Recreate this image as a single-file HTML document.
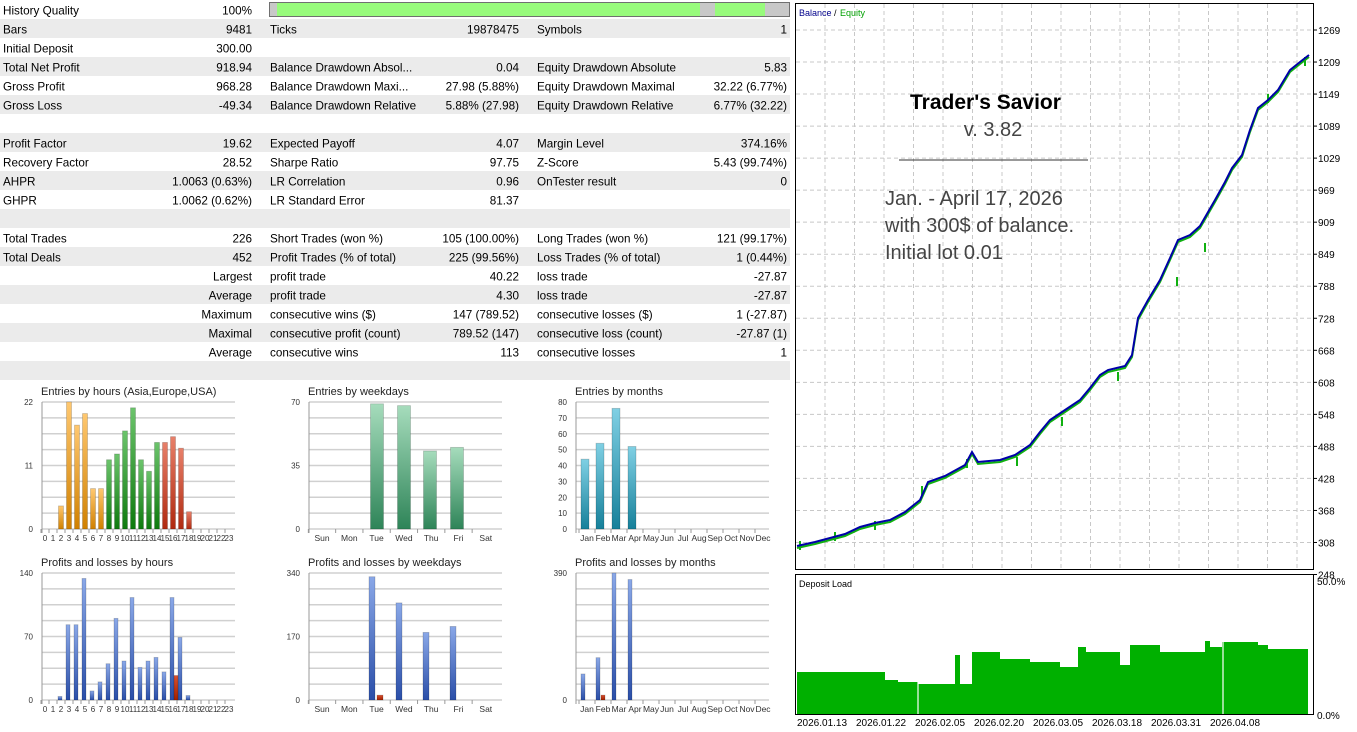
<!DOCTYPE html>
<html><head><meta charset="utf-8">
<style>
body{margin:0;background:#fff;width:1357px;height:732px;overflow:hidden;font-family:"Liberation Sans",sans-serif}
svg{position:absolute;left:0;top:0}
</style></head><body>
<svg id="s" width="1357" height="732" xmlns="http://www.w3.org/2000/svg" font-family="Liberation Sans, sans-serif"></svg>
<script>
const S=document.getElementById('s');let h='';
function R(x,y,w,H,f,extra){h+=`<rect x="${x}" y="${y}" width="${w}" height="${H}" fill="${f}" ${extra||''}/>`}
function T(x,y,t,sz,fill,anchor,extra){h+=`<text x="${x}" y="${y}" font-size="${sz}" fill="${fill||'#000'}" text-anchor="${anchor||'start'}" ${extra||''}>${t}</text>`}
function L(x1,y1,x2,y2,c,w,extra){h+=`<line x1="${x1}" y1="${y1}" x2="${x2}" y2="${y2}" stroke="${c}" stroke-width="${w||1}" ${extra||''}/>`}
h+=`<defs>
<linearGradient id="gO" x1="0" y1="0" x2="0" y2="1"><stop offset="0" stop-color="#ffc870"/><stop offset="1" stop-color="#d08000"/></linearGradient>
<linearGradient id="gG" x1="0" y1="0" x2="0" y2="1"><stop offset="0" stop-color="#6cc46c"/><stop offset="1" stop-color="#0e7a0e"/></linearGradient>
<linearGradient id="gR" x1="0" y1="0" x2="0" y2="1"><stop offset="0" stop-color="#e8806a"/><stop offset="1" stop-color="#b02a10"/></linearGradient>
<linearGradient id="gB" x1="0" y1="0" x2="0" y2="1"><stop offset="0" stop-color="#8aa8e8"/><stop offset="1" stop-color="#2a4ea8"/></linearGradient>
<linearGradient id="gW" x1="0" y1="0" x2="0" y2="1"><stop offset="0" stop-color="#a6dcbc"/><stop offset="1" stop-color="#2e8458"/></linearGradient>
<linearGradient id="gC" x1="0" y1="0" x2="0" y2="1"><stop offset="0" stop-color="#80d0e4"/><stop offset="1" stop-color="#16809a"/></linearGradient>
<linearGradient id="gRR" x1="0" y1="0" x2="0" y2="1"><stop offset="0" stop-color="#d85030"/><stop offset="1" stop-color="#a02000"/></linearGradient>
</defs>`;
const rows=[
["History Quality","100%","","","",""],
["Bars","9481","Ticks","19878475","Symbols","1"],
["Initial Deposit","300.00","","","",""],
["Total Net Profit","918.94","Balance Drawdown Absol...","0.04","Equity Drawdown Absolute","5.83"],
["Gross Profit","968.28","Balance Drawdown Maxi...","27.98 (5.88%)","Equity Drawdown Maximal","32.22 (6.77%)"],
["Gross Loss","-49.34","Balance Drawdown Relative","5.88% (27.98)","Equity Drawdown Relative","6.77% (32.22)"],
["","","","","",""],
["Profit Factor","19.62","Expected Payoff","4.07","Margin Level","374.16%"],
["Recovery Factor","28.52","Sharpe Ratio","97.75","Z-Score","5.43 (99.74%)"],
["AHPR","1.0063 (0.63%)","LR Correlation","0.96","OnTester result","0"],
["GHPR","1.0062 (0.62%)","LR Standard Error","81.37","",""],
["","","","","",""],
["Total Trades","226","Short Trades (won %)","105 (100.00%)","Long Trades (won %)","121 (99.17%)"],
["Total Deals","452","Profit Trades (% of total)","225 (99.56%)","Loss Trades (% of total)","1 (0.44%)"],
["","Largest","profit trade","40.22","loss trade","-27.87"],
["","Average","profit trade","4.30","loss trade","-27.87"],
["","Maximum","consecutive wins ($)","147 (789.52)","consecutive losses ($)","1 (-27.87)"],
["","Maximal","consecutive profit (count)","789.52 (147)","consecutive loss (count)","-27.87 (1)"],
["","Average","consecutive wins","113","consecutive losses","1"],
["","","","","",""]];
rows.forEach((r,i)=>{const y=i*19;if(i%2==1)R(0,y,790,19,'#ebebeb');
 const by=y+14.5;const f=11.7;
 if(r[0])T(3,by,r[0],f);if(r[1])T(252,by,r[1],f,'#000','end');
 if(r[2])T(270,by,r[2],f);if(r[3])T(519,by,r[3],f,'#000','end');
 if(r[4])T(537,by,r[4],f);if(r[5])T(787,by,r[5],f,'#000','end');});
R(269.5,2.5,520,14,'#c8c8c8','stroke="#707070"');R(277,3,423,13,'#98fb7c');R(715,3,50,13,'#98fb7c');
function chart(ox,top,title,max,ticks,labels,cat0,catStep,bars,xlabFs){
 const L0=ox+42,R0=ox+235,bot=top+127;
 T(ox+41,top-7,title,11,'#222');
 for(let k=0;k<=8;k++){const y=top+k*127/8;L(L0,y,R0,y,'#d0d0d0',1.5)}
 L(L0,top,L0,bot+4,'#999');
 ticks.forEach(t=>{T(L0-9,bot-t/max*127+3,t,8,'#333','end')});
 labels.forEach((s,i)=>{const x=cat0+i*catStep;T(x,bot+12,s,xlabFs||8.5,'#333','middle');L(x-catStep/2,bot,x-catStep/2,bot+4,'#999')});
 bars.forEach(b=>{const hh=b[1]/max*127;R(b[0]-b[2]/2,bot-hh,b[2],hh,b[3],'stroke="'+(b[4]||'#0003')+'" stroke-width="0.8"')});
}
const hrs=[...Array(24).keys()].map(String);
const ev={2:4,3:22,4:18,5:20,6:7,7:7,8:12,9:13,10:17,11:21,12:12,13:10,14:15,15:15,16:16,17:14,18:3};
let b1=[];for(const k in ev){const i=+k;b1.push([45+i*8,ev[k],5,i<=7?'url(#gO)':i<=14?'url(#gG)':'url(#gR)'])}
chart(0,402,'Entries by hours (Asia,Europe,USA)',22,[0,11,22],hrs,45,8,b1,8);
const pv={2:4,3:83,4:83,5:134,6:10,7:20,8:40,9:90,10:43,11:113,12:36,13:43,14:47,15:31,16:113,17:69,18:5};
let b2=[];for(const k in pv){b2.push([44+(+k)*8,pv[k],4,'url(#gB)'])}b2.push([176,27,4,'url(#gRR)']);
chart(0,573,'Profits and losses by hours',140,[0,70,140],hrs,45,8,b2,8);
const wd=['Sun','Mon','Tue','Wed','Thu','Fri','Sat'];
chart(267,402,'Entries by weekdays',70,[0,35,70],wd,322,27.3,[[377,69,13,'url(#gW)'],[404,68,13,'url(#gW)'],[430,43,13,'url(#gW)'],[457,45,13,'url(#gW)']]);
chart(267,573,'Profits and losses by weekdays',340,[0,170,340],wd,322,27.3,[[372,330,6,'url(#gB)'],[380,13,6,'url(#gRR)'],[399,260,6,'url(#gB)'],[426,181,6,'url(#gB)'],[453,197,6,'url(#gB)']]);
const mo=['Jan','Feb','Mar','Apr','May','Jun','Jul','Aug','Sep','Oct','Nov','Dec'];
chart(534,402,'Entries by months',80,[0,10,20,30,40,50,60,70,80],mo,587,16,[[585,44,8,'url(#gC)'],[600,54,8,'url(#gC)'],[616,76,8,'url(#gC)'],[632,52,8,'url(#gC)']]);
chart(534,573,'Profits and losses by months',390,[0,390],mo,587,16,[[583,80,4,'url(#gB)'],[598,130,4,'url(#gB)'],[603,15,4,'url(#gRR)'],[614,390,4,'url(#gB)'],[630,370,4,'url(#gB)']]);
R(795.5,3.5,518,566,'#fff','stroke="#000"');
const gx=[];for(let x=825;x<1313;x+=29.5)gx.push(x);
gx.forEach(x=>{L(x,4,x,569,'#c8c8c8',1,'stroke-dasharray="4,3"');L(x,575,x,714,'#c8c8c8',1,'stroke-dasharray="4,3"')});
const pl=[1269,1209,1149,1089,1029,969,909,849,788,728,668,608,548,488,428,368,308,248];
pl.forEach((v,i)=>{const y=30+i*32.03;L(796,y,1313,y,'#c8c8c8',1,'stroke-dasharray="4,3"');L(1313,y,1317,y,'#000');T(1318,y+4,v,10,'#000')});
T(799,16,'Balance',9,'#00008b');T(834,16,'/',9,'#000');T(840,16,'Equity',9,'#00a000');
T(910,109,"Trader's Savior",21,'#000','start','font-weight="bold"');
T(993,136,'v. 3.82',20,'#444','middle');
L(899,160,1088,160,'#333');
T(885,205,'Jan. - April 17, 2026',20,'#444');T(885,232,'with 300$ of balance.',20,'#444');T(885,259,'Initial lot 0.01',20,'#444');
const pts=[[797,546],[815,542],[830,538],[845,534],[860,527],[875,523],[890,520],[905,512],[920,500],[928,482],[945,476],[965,465],[972,452],[978,462],[1000,460],[1015,455],[1030,445],[1040,432],[1050,420],[1065,410],[1080,400],[1090,388],[1100,375],[1108,370],[1125,366],[1132,355],[1138,318],[1148,300],[1160,280],[1170,258],[1178,240],[1190,235],[1200,226],[1215,200],[1225,182],[1232,168],[1242,155],[1250,130],[1258,108],[1268,100],[1278,90],[1290,70],[1300,62],[1309,55]];
const P=pts.map(p=>p.join(',')).join(' ');
h+=`<polyline points="${pts.map(p=>p[0]+','+(p[1]+2)).join(' ')}" fill="none" stroke="#10b010" stroke-width="2"/>`;
[[800,550],[835,541],[875,530],[922,495],[967,468],[1017,466],[1062,426],[1118,381],[1177,286],[1205,252],[1268,103],[1305,66]].forEach(p=>L(p[0],p[1]-9,p[0],p[1],'#10b010',2));
h+=`<polyline points="${P}" fill="none" stroke="#0000a8" stroke-width="2"/>`;
R(795.5,574.5,518,140,'#fff','stroke="#000"');
T(799,587,'Deposit Load',9,'#000');
T(1317,585,'50.0%',10,'#000');T(1317,719,'0.0%',10,'#000');
const seg=[[797,672],[885,680],[898,682],[918,684],[950,684],[955,655],[960,684],[972,652],[1000,659],[1030,662],[1060,667],[1078,647],[1086,652],[1120,665],[1130,645],[1160,652],[1205,641],[1210,647],[1222,642],[1258,645],[1268,649],[1308,649]];
let d='M797,714';seg.forEach((s,i)=>{if(i<seg.length-1){d+=` L${s[0]},${s[1]} L${seg[i+1][0]},${s[1]}`}});d+=' L1308,714 Z';
h+=`<path d="${d}" fill="#00b000"/>`;
L(918,640,918,714,'#fff',1.2);L(1223,640,1223,714,'#fff',1.2);
['2026.01.13','2026.01.22','2026.02.05','2026.02.20','2026.03.05','2026.03.18','2026.03.31','2026.04.08'].forEach((s,i)=>T(797+i*59,726,s,10,'#000'));
S.innerHTML=h;
</script>
</body></html>
